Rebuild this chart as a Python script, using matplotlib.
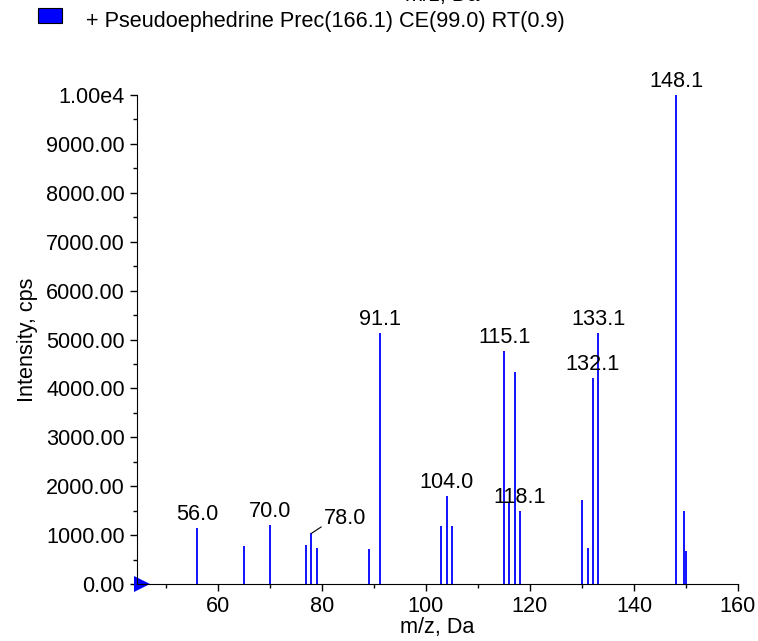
import numpy as np
import matplotlib.pyplot as plt
from matplotlib.patches import Rectangle
from matplotlib.transforms import offset_copy

plt.rcParams['font.family'] = ['Liberation Sans', 'DejaVu Sans']

# peak list (m/z, intensity)
mz = [56.0, 65.0, 70.0, 77.0, 78.0, 79.0, 89.0, 91.1, 103.0, 104.0, 105.0,
      115.1, 116.0, 117.1, 118.1, 130.0, 131.1, 132.1, 133.1, 148.1, 149.6, 150.1]
inten = [1145, 777, 1207, 797, 1036, 743, 716, 5127, 1186, 1800, 1186,
         4765, 1650, 4342, 1500, 1718, 736, 4206, 5127, 10000, 1500, 675]

# labelled peaks
lab_mz = [56.0, 70.0, 91.1, 104.0, 115.1, 118.1, 132.1, 133.1, 148.1]
lab_txt = ['56.0', '70.0', '91.1', '104.0', '115.1', '118.1', '132.1', '133.1', '148.1']

yticks = np.arange(0, 10001, 1000)
ylabels = ['%.2f' % v for v in yticks[:-1]] + ['1.00e4']

fs = 15.6

fig = plt.figure(figsize=(7.58, 6.41), dpi=100)
ax = fig.add_axes([0.1803, 0.0889, 0.7933, 0.7629])

ax.vlines(mz, 0, inten, color='#0000ff', lw=1.3)

for m, t in zip(lab_mz, lab_txt):
    h = inten[mz.index(m)]
    ax.text(m, h + 60, t, ha='center', va='bottom', fontsize=fs, clip_on=False)

# 78.0 label with leader line
ax.annotate('78.0', xy=(78.0, 1036), xytext=(84.5, 1120), ha='center', va='bottom',
            fontsize=fs, arrowprops=dict(arrowstyle='-', color='black', lw=0.8,
                                         shrinkA=0, shrinkB=0,
                                         relpos=(0.0, 0.2)))

ax.set_xlim(44.4, 160)
ax.set_ylim(0, 10000)
ax.set_xticks([60, 80, 100, 120, 140, 160])
ax.set_xticks(np.arange(50, 161, 10), minor=True)
ax.set_yticks(yticks)
ax.set_yticklabels(ylabels)
ax.set_yticks(np.arange(500, 10000, 1000), minor=True)
ax.tick_params(labelsize=fs, direction='out', length=5, width=1)
ax.tick_params(which='minor', length=3, width=1)

for s in ['top', 'right']:
    ax.spines[s].set_visible(False)

ax.set_xlabel('m/z, Da', fontsize=fs, labelpad=0)
ax.set_ylabel('Intensity, cps', fontsize=fs, labelpad=6)

# triangle marker at origin (sits just inside the axis)
tr = offset_copy(ax.transData, fig=fig, x=5, y=0, units='dots')
ax.plot([44.4], [0], marker='>', color='#0000ff', markersize=11, clip_on=False,
        markeredgewidth=0, transform=tr)

# legend-like header
fig.patches.append(Rectangle((38 / 758, 1 - 23 / 641), 24 / 758, 15 / 641,
                             transform=fig.transFigure, facecolor='#0000ff',
                             edgecolor='black', lw=0.8))
fig.text(86 / 758, 1 - 22 / 641, '+ Pseudoephedrine Prec(166.1) CE(99.0) RT(0.9)',
         fontsize=fs, va='center', ha='left')
fig.text(442 / 758, 1 + 5 / 641, 'm/z, Da', fontsize=fs, va='center', ha='center')

fig.savefig('out.png', dpi=100)
